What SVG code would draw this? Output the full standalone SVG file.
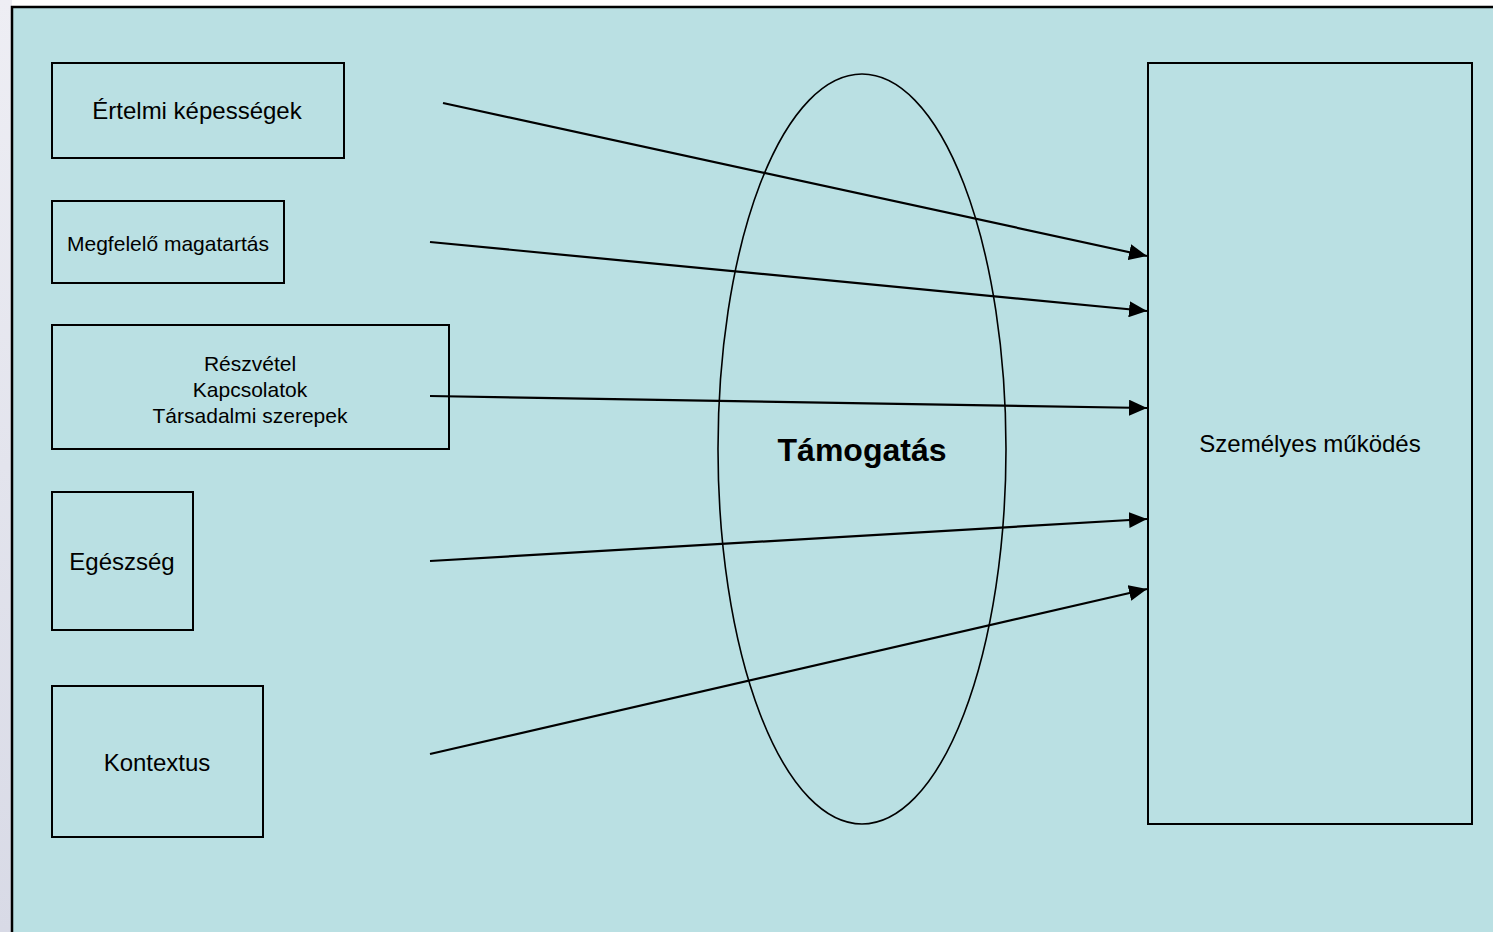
<svg xmlns="http://www.w3.org/2000/svg" width="1493" height="932" viewBox="0 0 1493 932">
<defs>
<linearGradient id="lg" x1="0" y1="0" x2="0" y2="1"><stop offset="0" stop-color="#EEEEF4"/><stop offset="1" stop-color="#D8DAE6"/></linearGradient>
<marker id="ah" viewBox="0 0 18 16" refX="18" refY="8" markerWidth="18" markerHeight="16" markerUnits="userSpaceOnUse" orient="auto"><path d="M0,0 L18,8 L0,16 z" fill="#000"/></marker>
</defs>
<style>
.box{fill:none;stroke:#000;stroke-width:2}
.t{font-family:"Liberation Sans",Arial,sans-serif;fill:#000;text-anchor:middle}
.c{stroke:#000;stroke-width:2.2;fill:none;marker-end:url(#ah)}
</style>
<rect x="0" y="0" width="1493" height="932" fill="#fff"/>
<rect x="0" y="0" width="12" height="932" fill="url(#lg)"/>
<rect x="12" y="7" width="1481" height="925" fill="#BAE0E3"/>
<path d="M12,932 L12,7 L1493,7" fill="none" stroke="#000" stroke-width="2.5"/>
<g id="n1"><rect class="box" x="52" y="63" width="292" height="95"/><text class="t" x="197" y="119" font-size="24">Értelmi képességek</text></g>
<g id="n2"><rect class="box" x="52" y="201" width="232" height="82"/><text class="t" x="168" y="251" font-size="21">Megfelelő magatartás</text></g>
<g id="n3"><rect class="box" x="52" y="325" width="397" height="124"/><text class="t" x="250" y="371" font-size="21">Részvétel</text><text class="t" x="250" y="397" font-size="21">Kapcsolatok</text><text class="t" x="250" y="423" font-size="21">Társadalmi szerepek</text></g>
<g id="n4"><rect class="box" x="52" y="492" width="141" height="138"/><text class="t" x="122" y="570" font-size="24">Egészség</text></g>
<g id="n5"><rect class="box" x="52" y="686" width="211" height="151"/><text class="t" x="157" y="771" font-size="24">Kontextus</text></g>
<g id="support"><ellipse cx="862" cy="449" rx="144" ry="375" fill="none" stroke="#000" stroke-width="1.6"/><text class="t" x="862" y="461" font-size="32" font-weight="bold">Támogatás</text></g>
<g id="out"><rect class="box" x="1148" y="63" width="324" height="761"/><text class="t" x="1310" y="452" font-size="24">Személyes működés</text></g>
<g id="connectors">
<line class="c" x1="443" y1="103" x2="1147" y2="256"/>
<line class="c" x1="430" y1="242" x2="1147" y2="311"/>
<line class="c" x1="430" y1="396" x2="1147" y2="408"/>
<line class="c" x1="430" y1="561" x2="1147" y2="519"/>
<line class="c" x1="430" y1="754" x2="1147" y2="589"/>
</g>
</svg>
